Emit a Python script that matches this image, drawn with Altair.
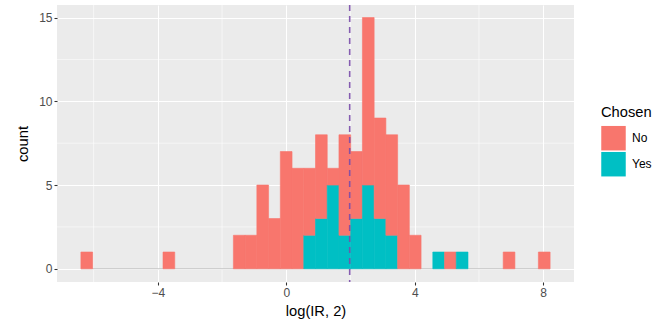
import altair as alt
import pandas as pd

# histogram bins
bin_start = -6.396
bin_width = 0.3653
bin_index = [0, 7, 13, 14, 15, 16, 17, 18, 19, 20, 21, 22, 23, 24, 25, 26, 27, 28, 30, 31, 32, 36, 39]
no_counts = [1, 1, 2, 2, 5, 3, 7, 6, 4, 5, 1, 6, 4, 10, 6, 6, 5, 2, 0, 1, 0, 1, 1]
yes_counts = [0, 0, 0, 0, 0, 0, 0, 0, 2, 3, 5, 2, 3, 5, 3, 2, 0, 0, 1, 0, 1, 0, 0]
n_bins = 40
mean_value = 1.975

x_ticks = [-4, 0, 4, 8]
x_minor = [-6, -2, 2, 6]
y_ticks = [0, 5, 10, 15]
y_minor = [2.5, 7.5, 12.5]

rows = []
for i, n, y in zip(bin_index, no_counts, yes_counts):
    lo = bin_start + i * bin_width
    hi = lo + bin_width
    if y > 0:
        rows.append({"lo": lo, "hi": hi, "count": y, "Chosen": "Yes", "ord": 0})
    if n > 0:
        rows.append({"lo": lo, "hi": hi, "count": n, "Chosen": "No", "ord": 1})
df = pd.DataFrame(rows)

x_dom = [-7.14, 8.96]
y_dom = [-0.79, 15.75]
xs = alt.Scale(domain=x_dom, nice=False, zero=False)
ys = alt.Scale(domain=y_dom, nice=False, zero=False)
cs = alt.Scale(domain=["No", "Yes"], range=["#F8766D", "#00BFC4"])

font = "Liberation Sans"
x_axis = alt.Axis(values=x_ticks, grid=True, gridColor="white", gridWidth=1.07,
                  domain=False, tickColor="#333333", tickSize=3, tickWidth=1.07,
                  labelColor="#4D4D4D", labelFontSize=12, labelFont=font, labelPadding=2,
                  title="log(IR, 2)", titleFont=font, titleFontSize=14.7,
                  titleFontWeight="normal", titleColor="black", titlePadding=5)
y_axis = alt.Axis(values=y_ticks, grid=True, gridColor="white", gridWidth=1.07,
                  domain=False, tickColor="#333333", tickSize=3, tickWidth=1.07,
                  labelColor="#4D4D4D", labelFontSize=12, labelFont=font, labelPadding=2,
                  title="count", titleFont=font, titleFontSize=14.7,
                  titleFontWeight="normal", titleColor="black", titlePadding=8)

minor_x = alt.Chart(pd.DataFrame({"v": x_minor})).mark_rule(color="white", strokeWidth=0.55).encode(
    x=alt.X("v:Q", scale=xs, axis=x_axis))
minor_y = alt.Chart(pd.DataFrame({"v": y_minor})).mark_rule(color="white", strokeWidth=0.55).encode(
    y=alt.Y("v:Q", scale=ys, axis=y_axis))

base_df = pd.DataFrame({"lo": [bin_start], "hi": [bin_start + n_bins * bin_width], "y": [0]})
baseline = alt.Chart(base_df).mark_rule(color="#c4c4c4", strokeWidth=1).encode(
    x=alt.X("lo:Q", scale=xs), x2="hi:Q", y=alt.Y("y:Q", scale=ys))

bars = alt.Chart(df).transform_stack(
    stack="count", groupby=["lo"], as_=["y0", "y1"], sort=[alt.SortField("ord", order="ascending")]
).mark_rect(strokeWidth=0.6).encode(
    x=alt.X("lo:Q", scale=xs, axis=x_axis),
    x2="hi:Q",
    y=alt.Y("y0:Q", scale=ys, axis=y_axis),
    y2="y1:Q",
    color=alt.Color("Chosen:N", scale=cs,
                    legend=alt.Legend(title="Chosen", orient="none", legendX=544, legendY=100,
                                      symbolType="square", symbolSize=600, symbolStrokeWidth=0,
                                      symbolOpacity=1, titleFont=font, titleFontSize=14.7,
                                      titleFontWeight="normal", titleColor="black", titlePadding=6,
                                      labelFont=font, labelFontSize=12, labelColor="black",
                                      labelOffset=6, rowPadding=1, padding=0)),
    stroke=alt.Stroke("Chosen:N", scale=cs, legend=None),
)

vline = alt.Chart(pd.DataFrame({"m": [mean_value]})).mark_rule(
    color="#7A4DAA", strokeDash=[6, 5], strokeWidth=1.6, opacity=0.9).encode(x=alt.X("m:Q", scale=xs))

chart = alt.layer(minor_x, minor_y, baseline, bars, vline).properties(
    width=517, height=277,
    autosize=alt.AutoSizeParams(type="none"),
    padding={"left": 57, "top": 5, "right": 97, "bottom": 46},
    background="white",
).configure_view(fill="#EBEBEB", stroke=None)

chart.save("out.html", embed_options={"renderer": "svg", "actions": False})
